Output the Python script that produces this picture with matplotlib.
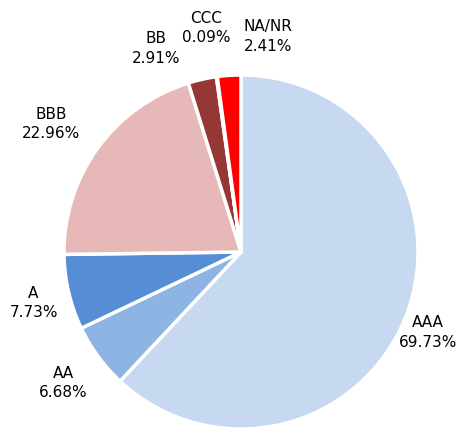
import matplotlib
matplotlib.use("Agg")
import matplotlib.pyplot as plt

# ratings and shares (as printed on the chart)
ratings = ["AAA", "AA", "A", "BBB", "BB", "CCC", "NA/NR"]
shares = [69.73, 6.68, 7.73, 22.96, 2.91, 0.09, 2.41]
colors = ["#C6D9F1", "#8EB4E3", "#558ED5", "#E6B9B8", "#953735", "#632523", "#FF0000"]

# label centres, in pie radius units (pie centre = 0,0)
label_x = [1.058, -1.006, -1.172, -1.073, -0.480, -0.198, 0.153]
label_y = [-0.455, -0.740, -0.288, 0.723, 1.150, 1.266, 1.218]

plt.rcParams["font.family"] = ["DejaVu Sans"]

fig = plt.figure(figsize=(4.58, 4.29), dpi=100)
ax = fig.add_axes([0, 0, 1, 1])

ax.pie(shares, colors=colors, startangle=90, counterclock=False,
       wedgeprops=dict(edgecolor="white", linewidth=2.5))

for name, val, x, y in zip(ratings, shares, label_x, label_y):
    ax.text(x, y, f"{name}\n{val:.2f}%", ha="center", va="center",
            fontsize=11, linespacing=1.4, color="black")

ax.set_xlim(-241 / 177, 217 / 177)
ax.set_ylim(-177 / 177, 252 / 177)
ax.set_aspect("auto")
ax.axis("off")

fig.savefig("out.png", dpi=100, facecolor="white")
